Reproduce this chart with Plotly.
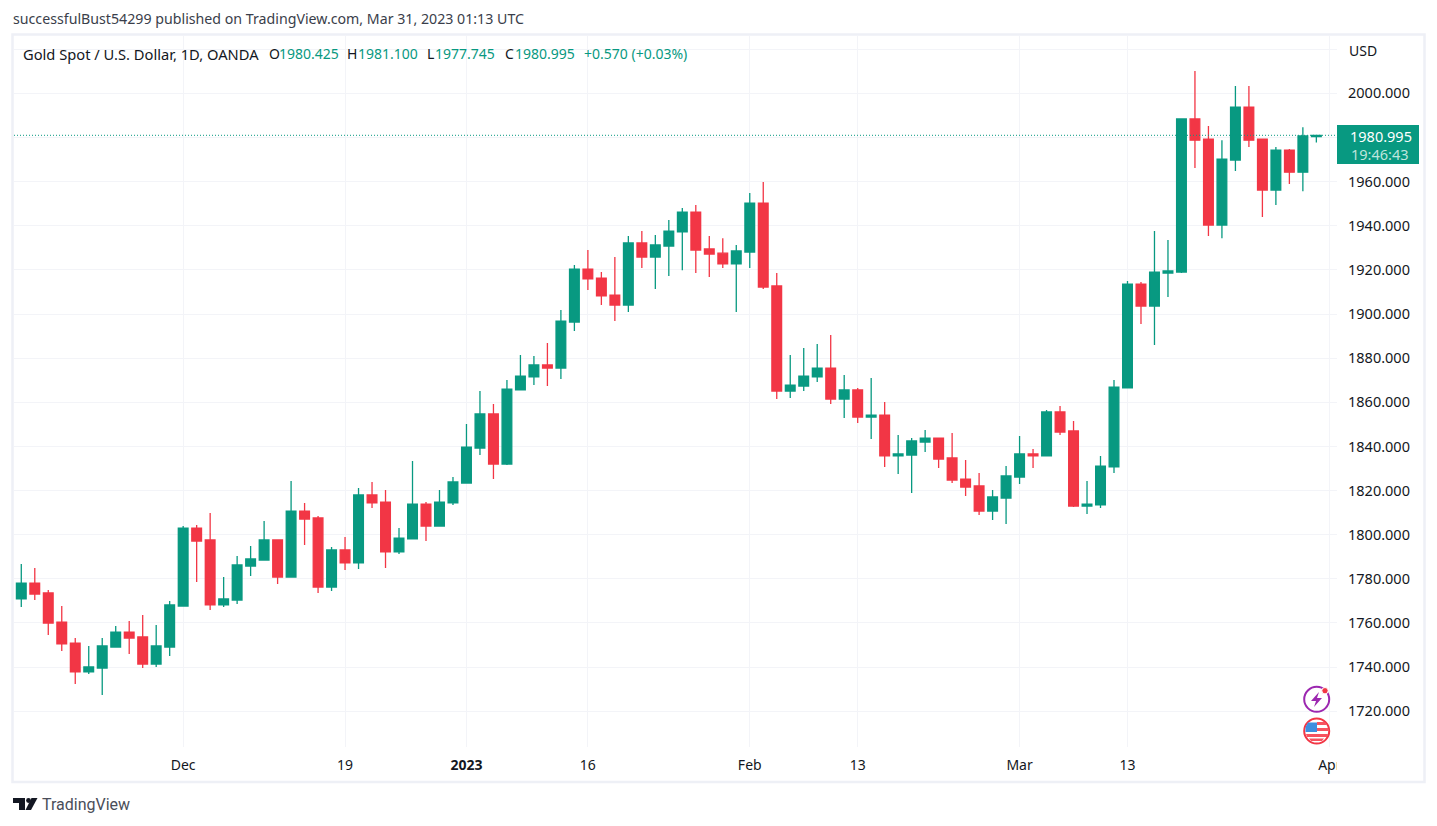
import plotly.graph_objects as go

dates = ["2022-11-15","2022-11-16","2022-11-17","2022-11-18","2022-11-21","2022-11-22","2022-11-23","2022-11-24","2022-11-25","2022-11-28","2022-11-29","2022-11-30",
         "2022-12-01","2022-12-02","2022-12-05","2022-12-06","2022-12-07","2022-12-08","2022-12-09","2022-12-12","2022-12-13","2022-12-14","2022-12-15","2022-12-16",
         "2022-12-19","2022-12-20","2022-12-21","2022-12-22","2022-12-23","2022-12-27","2022-12-28","2022-12-29","2022-12-30",
         "2023-01-03","2023-01-04","2023-01-05","2023-01-06","2023-01-09","2023-01-10","2023-01-11","2023-01-12","2023-01-13",
         "2023-01-16","2023-01-17","2023-01-18","2023-01-19","2023-01-20","2023-01-23","2023-01-24","2023-01-25","2023-01-26","2023-01-27","2023-01-30","2023-01-31",
         "2023-02-01","2023-02-02","2023-02-03","2023-02-06","2023-02-07","2023-02-08","2023-02-09","2023-02-10",
         "2023-02-13","2023-02-14","2023-02-15","2023-02-16","2023-02-17","2023-02-20","2023-02-21","2023-02-22","2023-02-23","2023-02-24","2023-02-27","2023-02-28",
         "2023-03-01","2023-03-02","2023-03-03","2023-03-06","2023-03-07","2023-03-08","2023-03-09","2023-03-10",
         "2023-03-13","2023-03-14","2023-03-15","2023-03-16","2023-03-17","2023-03-20","2023-03-21","2023-03-22","2023-03-23","2023-03-24","2023-03-27","2023-03-28","2023-03-29","2023-03-30","2023-03-31"]

opens = [1770.9,1778.1,1773.6,1760.4,1750.9,1737.8,1739.6,1749.1,1755.9,1753.7,1741.4,1749.1,
         1767.7,1803.0,1797.6,1768.2,1770.4,1785.8,1788.5,1797.6,1780.8,1810.7,1807.6,1776.3,
         1793.1,1787.2,1818.0,1814.8,1792.2,1798.1,1813.9,1803.9,1814.4,
         1823.4,1839.3,1854.7,1832.0,1865.6,1871.5,1876.9,1875.5,1896.4,
         1920.4,1916.3,1908.6,1904.1,1932.2,1925.8,1930.8,1937.2,1946.2,1929.5,1927.6,1922.7,
         1928.1,1950.3,1912.7,1865.1,1867.4,1871.5,1875.5,1861.5,
         1865.6,1853.3,1854.2,1835.7,1836.1,1842.0,1843.8,1834.8,1825.2,1822.1,1810.7,1816.6,
         1826.1,1836.6,1835.7,1855.6,1847.0,1813.0,1813.5,1830.7,
         1866.5,1913.6,1903.6,1918.6,1919.0,1988.4,1979.3,1940.3,1969.8,1993.8,1979.3,1956.2,1974.3,1964.3,1980.425]
highs = [1786.7,1784.9,1774.9,1767.7,1753.2,1749.6,1753.2,1758.6,1760.9,1763.6,1759.1,1770.0,
         1803.9,1804.4,1809.8,1780.8,1790.4,1794.9,1806.2,1797.6,1824.3,1814.4,1808.5,1794.4,
         1799.0,1821.2,1823.9,1820.3,1803.0,1833.4,1814.8,1820.3,1826.1,
         1850.2,1865.1,1859.2,1870.1,1881.4,1881.0,1886.9,1901.8,1922.2,
         1929.0,1919.0,1925.8,1935.4,1937.6,1935.8,1942.6,1948.0,1949.4,1935.4,1934.4,1931.3,
         1954.8,1959.8,1918.6,1881.4,1884.6,1886.4,1890.5,1872.4,
         1866.5,1871.0,1860.1,1845.2,1843.8,1847.4,1843.8,1846.1,1833.9,1828.0,1820.3,1831.1,
         1844.7,1838.8,1856.5,1858.3,1851.5,1824.3,1835.7,1870.1,
         1915.0,1914.5,1937.6,1933.5,1988.4,2010.1,1985.2,1978.8,2003.3,2003.3,1979.3,1975.7,1974.8,1984.7,1981.100]
lows = [1767.2,1770.4,1754.6,1747.3,1732.4,1736.9,1727.4,1749.1,1745.9,1739.6,1740.1,1745.0,
        1767.7,1778.6,1765.9,1767.2,1768.6,1781.3,1788.5,1777.7,1780.8,1795.3,1773.6,1774.5,
        1784.0,1784.5,1812.1,1784.9,1791.3,1798.1,1797.1,1803.9,1813.5,
        1823.4,1836.1,1825.2,1831.6,1865.6,1867.8,1867.4,1870.6,1892.3,
        1910.9,1904.1,1896.8,1900.9,1920.9,1911.3,1917.2,1919.9,1918.6,1916.8,1920.9,1900.9,
        1920.9,1911.3,1861.5,1861.9,1865.1,1869.2,1859.2,1852.9,
        1850.6,1843.4,1830.7,1827.5,1818.9,1837.5,1830.2,1823.4,1817.5,1808.9,1806.7,1804.9,
        1823.0,1830.2,1835.7,1845.2,1812.6,1809.4,1812.1,1828.0,
        1866.5,1895.5,1886.0,1907.7,1918.6,1966.2,1935.4,1934.4,1964.8,1975.7,1944.0,1949.4,1958.9,1955.7,1977.745]
closes = [1778.1,1773.1,1760.0,1750.5,1737.8,1740.1,1749.6,1755.9,1753.2,1741.4,1749.6,1768.2,
          1803.0,1797.1,1768.2,1770.9,1786.3,1789.0,1797.6,1780.8,1810.7,1807.1,1776.3,1793.1,
          1787.2,1818.0,1814.4,1792.2,1798.5,1813.9,1803.9,1814.8,1823.9,
          1839.7,1854.7,1832.0,1866.0,1871.9,1876.9,1875.5,1896.8,1920.4,
          1915.9,1908.2,1904.1,1932.2,1925.8,1931.3,1937.6,1946.2,1929.0,1927.2,1922.7,1928.6,
          1950.3,1912.2,1865.1,1867.8,1871.9,1875.5,1861.5,1865.6,
          1853.3,1854.2,1835.7,1836.6,1842.5,1843.8,1834.3,1824.8,1821.6,1810.7,1817.1,1826.6,
          1836.6,1835.7,1855.6,1846.5,1813.0,1813.9,1831.1,1866.9,
          1913.6,1903.6,1919.0,1919.5,1988.4,1978.8,1940.3,1970.2,1993.8,1978.8,1956.2,1974.3,1964.3,1980.7,1980.995]

x_tick_dates = ["2022-12-01","2022-12-19","2023-01-03","2023-01-16","2023-02-01","2023-02-13","2023-03-01","2023-03-13","2023-04-03"]
x_tick_labels = ["Dec","19","<b>2023</b>","16","Feb","13","Mar","13","Apr"]
y_ticks = [1720,1740,1760,1780,1800,1820,1840,1860,1880,1900,1920,1940,1960,1980,2000,2020]
y_tick_labels = ["1720.000","1740.000","1760.000","1780.000","1800.000","1820.000","1840.000","1860.000","1880.000","1900.000","1920.000","1940.000","1960.000","","2000.000",""]
last_price = 1980.995

GREEN = "#089981"
RED = "#F23645"
GRID = "#f3f4f8"
FRAME = "#eef0f6"
TEXT = "#131722"
# page keeps the 8px body margin, so the figure sits at (8,8) and is 16px smaller
PAGE_MARGIN = 8
W, H = 1437 - 2*PAGE_MARGIN, 826 - 2*PAGE_MARGIN
L, R, T, B = 14, 1337, 36, 747
FONT = "Noto Sans"

# screen pixels -> paper coords
def px(x):
    return (x - L) / (R - L)
def py(y):
    return (B - y) / (B - T)

def rect(x0, y0, x1, y1, **kw):
    return dict(type="rect", xref="paper", yref="paper", x0=px(x0), x1=px(x1), y0=py(y0), y1=py(y1), **kw)
def circle(cx, cy, r, **kw):
    return dict(type="circle", xref="paper", yref="paper", x0=px(cx-r), x1=px(cx+r), y0=py(cy-r), y1=py(cy+r), **kw)
def poly(points, color):
    path = "M " + " L ".join(f"{px(a):.5f},{py(b):.5f}" for a, b in points) + " Z"
    return dict(type="path", xref="paper", yref="paper", path=path, fillcolor=color, line=dict(width=0))
def label(x, y, text, size=14, color=TEXT, anchor="left", family=FONT):
    return dict(xref="paper", yref="paper", x=px(x), y=py(y), text=text, showarrow=False,
                xanchor=anchor, yanchor="middle", align=anchor, font=dict(family=family, size=size, color=color))

fig = go.Figure(go.Candlestick(
    x=dates, open=opens, high=highs, low=lows, close=closes,
    increasing=dict(line=dict(color=GREEN, width=1.3), fillcolor=GREEN),
    decreasing=dict(line=dict(color=RED, width=1.3), fillcolor=RED),
    whiskerwidth=0,
))

shapes = [
    rect(12.5, 34.5, 1424.5, 782, line=dict(color=FRAME, width=2.5), layer="below"),
    dict(type="line", xref="paper", yref="y", x0=0, x1=1, y0=last_price, y1=last_price,
         line=dict(color=GREEN, width=1, dash="1px,2px")),
    rect(1337, 125, 1419, 164, fillcolor=GREEN, line=dict(width=0)),
    # hides the part of the Apr tick that runs past the pane
    rect(1337, 752, 1348, 778, fillcolor="white", line=dict(width=0)),
    # bolt icon
    circle(1316.7, 699.3, 12.5, line=dict(color="#9C27B0", width=2)),
    poly([(1319,692),(1311,701),(1316,701),(1314,707),(1322,698),(1317,698)], "#9C27B0"),
    circle(1325, 690.7, 3.2, fillcolor=RED, line=dict(color="white", width=1)),
    # flag icon
    circle(1316.7, 731, 12.5, fillcolor="white", line=dict(color=RED, width=2)),
    poly([(1317,722),(1325,722),(1327,725),(1317,725)], "#F7525F"),
    poly([(1317,728),(1328,728),(1328,731),(1317,731)], "#F7525F"),
    poly([(1306,734),(1328,734),(1327,737),(1307,737)], "#F7525F"),
    poly([(1309,738.5),(1324,738.5),(1322,741),(1311,741)], "#F7525F"),
    poly([(1308,722.5),(1317,722.5),(1317,732),(1305.5,732),(1305.5,727)], "#3D8FE0"),
    # TradingView logo
    poly([(13,798),(25,798),(25,810),(19,810),(19,803),(13,803)], TEXT),
    circle(28.5, 800.5, 2.4, fillcolor=TEXT, line=dict(width=0)),
    poly([(31.5,798),(37.5,798),(31,810),(25.5,810)], TEXT),
]

annotations = [
    label(11, 19, "successfulBust54299 published on TradingView.com, Mar 31, 2023 01:13 UTC", 14.2, "#3a3e4a"),
    label(21, 53.5, "Gold Spot / U.S. Dollar, 1D, OANDA", 14.7),
    label(267, 53.5, "O", 14), label(277, 53.5, "1980.425", 14, GREEN),
    label(345, 53.5, "H", 14), label(356, 53.5, "1981.100", 14, GREEN),
    label(425, 53.5, "L", 14), label(433, 53.5, "1977.745", 14, GREEN),
    label(503, 53.5, "C", 14), label(513, 53.5, "1980.995", 14, GREEN),
    label(582, 53.5, "+0.570 (+0.03%)", 14, GREEN),
    label(1347, 50, "USD", 14),
    label(1414, 135.5, "1980.995", 14.5, "white", "right"),
    label(1411, 153.5, "19:46:43", 14.5, "#bfe5dd", "right"),
    label(40, 804.5, "TradingView", 16, "#4a4e59", family="Roboto"),
]

fig.update_layout(
    width=W, height=H,
    margin=dict(l=L-PAGE_MARGIN, r=W-(R-PAGE_MARGIN), t=T-PAGE_MARGIN, b=H-(B-PAGE_MARGIN)),
    paper_bgcolor="white", plot_bgcolor="white",
    showlegend=False, boxgap=0.28, boxgroupgap=0,
    font=dict(family=FONT, size=14, color=TEXT),
    shapes=shapes, annotations=annotations,
    xaxis=dict(type="category", categoryorder="array", categoryarray=dates + ["2023-04-03"],
               range=[-0.54, 97.53], tickmode="array", tickvals=x_tick_dates, ticktext=x_tick_labels,
               tickangle=0, ticks="", ticklen=0, showgrid=True, gridcolor=GRID, gridwidth=1, zeroline=False,
               showline=False, rangeslider=dict(visible=False), ticklabelstandoff=8, tickfont=dict(size=14, color=TEXT)),
    yaxis=dict(side="right", range=[1703.8, 2026], tickmode="array", tickvals=y_ticks, ticktext=y_tick_labels,
               ticks="", showgrid=True, gridcolor=GRID, gridwidth=1, zeroline=False, showline=False,
               ticklabelstandoff=10, tickfont=dict(size=14.5, color=TEXT)),
)

fig.write_html("out.html")
